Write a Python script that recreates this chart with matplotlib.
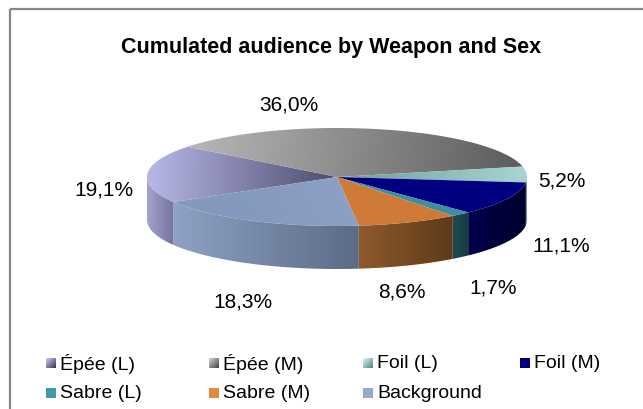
import numpy as np
import matplotlib
matplotlib.use("Agg")
import matplotlib.pyplot as plt
from matplotlib.patches import Polygon, Rectangle
from matplotlib.colors import to_rgb

# ---------------- data ----------------
categories = ["Épée (L)", "Épée (M)", "Foil (L)", "Foil (M)", "Sabre (L)", "Sabre (M)", "Background"]
values = [19.1, 36.0, 5.2, 11.1, 1.7, 8.6, 18.3]
value_labels = ["19,1%", "36,0%", "5,2%", "11,1%", "1,7%", "8,6%", "18,3%"]
title = "Cumulated audience by Weapon and Sex"

# ---------------- styles ----------------
top_cols = [("#B8B8E8", "#4C4C6E"), ("#B4B4B4", "#5A5A5A"), ("#6E9C9C", "#A8D4D4"),
            ("#000080", "#000080"), ("#3B8FA0", "#3B8FA0"), ("#CF7A38", "#CF7A38"),
            ("#8CA0C4", "#8499BE")]
side_cols = [("#A4A4CE", "#74749F"), ("#808080", "#505050"), ("#6E9A9A", "#587E7E"),
             ("#00004C", "#00002C"), ("#1E4A52", "#173A40"), ("#8E5A2C", "#5E3A1A"),
             ("#8DA2C4", "#5C6A86")]
leg_cols = [("#D0D0FF", "#303050"), ("#D8D8D8", "#404040"), ("#D8FFFF", "#507E7E"),
            ("#000080", "#000080"), ("#4199AA", "#4199AA"), ("#E08A40", "#E08A40"),
            ("#95A9CF", "#95A9CF")]

W, H = 643, 410
CX, CY, RX, RY, DEPTH = 337.0, 178.0, 190.0, 49.0, 43.0
START = 210.7
FONT = "Liberation Sans"
FS = 15
FS_LEG = 14

fig = plt.figure(figsize=(W / 100, H / 100), dpi=100)
ax = fig.add_axes([0, 0, 1, 1])
ax.set_xlim(0, W)
ax.set_ylim(H, 0)
ax.axis("off")


def rim(t, dy=0.0):
    t = np.radians(t)
    return np.column_stack([CX + RX * np.cos(t), CY - RY * np.sin(t) + dy])


def grad_fill(verts, c0, c1, p0, p1, z):
    poly = Polygon(verts, closed=True, facecolor="none", edgecolor="none", zorder=z)
    ax.add_patch(poly)
    x0, y0 = verts.min(axis=0) - 1
    x1, y1 = verts.max(axis=0) + 1
    nx, ny = 200, 100
    xs = np.linspace(x0, x1, nx)
    ys = np.linspace(y0, y1, ny)
    X, Y = np.meshgrid(xs, ys)
    d = np.array(p1, float) - np.array(p0, float)
    s = ((X - p0[0]) * d[0] + (Y - p0[1]) * d[1]) / max(d @ d, 1e-9)
    s = np.clip(s, 0, 1)[..., None]
    a, b = np.array(to_rgb(c0)), np.array(to_rgb(c1))
    img = a * (1 - s) + b * s
    im = ax.imshow(img, extent=(x0, x1, y1, y0), origin="upper", interpolation="bilinear",
                   zorder=z, aspect="auto")
    im.set_clip_path(poly)


vals = np.array(values, float)
cum = np.concatenate([[0], np.cumsum(vals)]) / vals.sum() * 360.0
bounds = [(START - cum[i], START - cum[i + 1]) for i in range(len(vals))]  # clockwise

# side walls (front half only)
for i, (ts, te) in enumerate(bounds):
    for lo_v, hi_v in [(-180, 0), (180, 360)]:
        lo, hi = max(te, lo_v), min(ts, hi_v)
        if hi - lo <= 0.01:
            continue
        t = np.linspace(lo, hi, 80)
        top = rim(t)
        bot = rim(t[::-1], DEPTH)
        verts = np.vstack([top, bot])
        xmin, xmax = verts[:, 0].min(), verts[:, 0].max()
        grad_fill(verts, side_cols[i][0], side_cols[i][1], (xmin, 0), (xmax, 0), 2)

# top faces
for i, (ts, te) in enumerate(bounds):
    t = np.linspace(ts, te, 120)
    verts = np.vstack([[[CX, CY]], rim(t)])
    mid = (ts + te) / 2
    if i == 0:
        p0 = rim([mid])[0]
        p1 = (CX, CY)
    elif i == 1:
        p0 = (CX - 0.7 * RX, CY - RY)
        p1 = (CX + RX, CY)
    else:
        p0 = (CX, CY)
        p1 = rim([mid])[0]
    grad_fill(verts, top_cols[i][0], top_cols[i][1], p0, p1, 3)

# value labels: placed relative to the rim point at each slice's mid angle
label_nudge = [(-43, 15), (-90, -25), (35, 6), (54, 3), (32, 30), (-6, 26), (-10, 37)]
for i, (ts, te) in enumerate(bounds):
    mid = (ts + te) / 2
    px, py = rim([mid])[0]
    if np.sin(np.radians(mid)) < 0:
        py += DEPTH
    ax.text(px + label_nudge[i][0], py + label_nudge[i][1], value_labels[i],
            ha="center", va="center", fontsize=FS, family=FONT, color="#000000", zorder=5)

# title
ax.text(331, 47, title, ha="center", va="center", fontsize=15.5, fontweight="bold",
        family=FONT, color="#000000", zorder=5)

# chart frame
ax.add_patch(Rectangle((10, 10), W + 20, H + 20, facecolor="none", edgecolor="#868686",
                       lw=1.6, zorder=1))

# legend (manual, Excel-like layout)
col_x = [46, 209, 363, 520]
row_y = [364, 394]
MS = 10
for i, name in enumerate(categories):
    r, c = divmod(i, 4)
    x, y = col_x[c], row_y[r]
    h = MS / 2
    sq = np.array([[x, y - h], [x + MS, y - h], [x + MS, y + h], [x, y + h]])
    grad_fill(sq, leg_cols[i][0], leg_cols[i][1], (x, y - h), (x + MS, y + h), 4)
    ax.text(x + MS + 4, y, name, ha="left", va="center", fontsize=FS_LEG, family=FONT,
            color="#000000", zorder=5)

fig.savefig("out.png", dpi=100)
